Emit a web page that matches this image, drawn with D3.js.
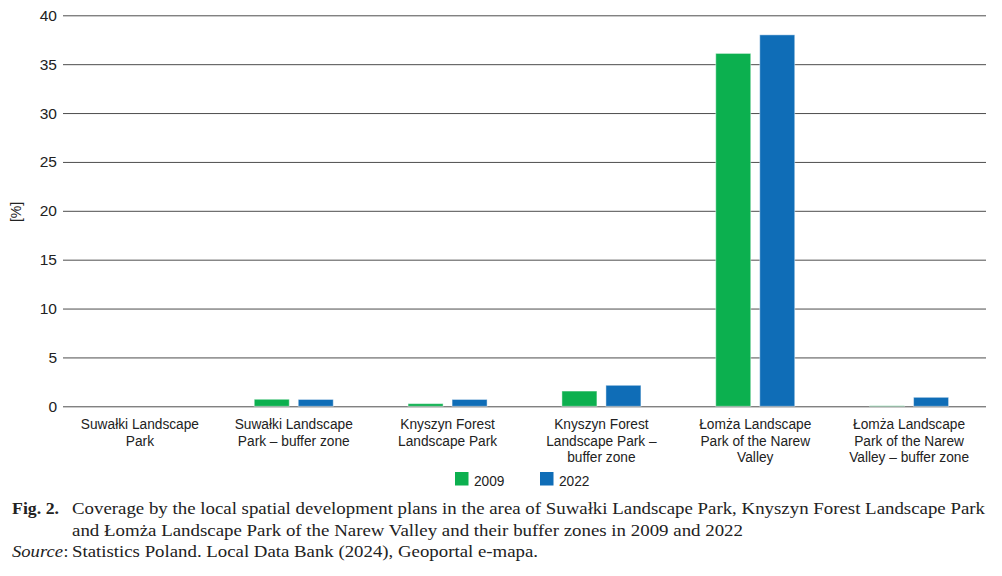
<!DOCTYPE html>
<html>
<head>
<meta charset="utf-8">
<script src="https://cdn.jsdelivr.net/npm/d3@7"></script>
<style>
  html, body { margin: 0; padding: 0; background: #fff; }
  svg { display: block; }
</style>
</head>
<body>
<svg id="chart" width="1002" height="576"></svg>
<script>
const categories = [
  ["Suwałki Landscape", "Park"],
  ["Suwałki Landscape", "Park – buffer zone"],
  ["Knyszyn Forest", "Landscape Park"],
  ["Knyszyn Forest", "Landscape Park –", "buffer zone"],
  ["Łomża Landscape", "Park of the Narew", "Valley"],
  ["Łomża Landscape", "Park of the Narew", "Valley – buffer zone"]
];
const series = ["2009", "2022"];
const values2009 = [0, 0.72, 0.27, 1.56, 36.1, 0.05];
const values2022 = [0, 0.70, 0.70, 2.15, 38.0, 0.92];
const yTicks = [0, 5, 10, 15, 20, 25, 30, 35, 40];
const colors = ["#0cb04f", "#0f6db7"];
const captionLine1 = "Coverage by the local spatial development plans in the area of Suwałki Landscape Park, Knyszyn Forest Landscape Park";
const captionLine2 = "and Łomża Landscape Park of the Narew Valley and their buffer zones in 2009 and 2022";
const sourceText = "Statistics Poland. Local Data Bank (2024), Geoportal e-mapa.";

(function () {
const svg = d3.select("#chart");
const pLeft = 63, pRight = 986, pTop = 15.3, pBottom = 406.3;
const sans = "Liberation Sans, Arial, sans-serif";
const condense = 0.885;

const y = d3.scaleLinear().domain([0, 40]).range([pBottom, pTop]);
const x0 = d3.scaleBand().domain(d3.range(categories.length)).range([pLeft, pRight]).padding(0);
const groupW = 79;
const x1 = d3.scaleBand().domain(series).range([0, groupW]).paddingInner(9 / 44).paddingOuter(0);

// gridlines + y tick labels via axis
const yAxis = d3.axisLeft(y).tickValues(yTicks).tickSize(-(pRight - pLeft)).tickPadding(6);
const gy = svg.append("g").attr("transform", `translate(${pLeft},0)`).call(yAxis);
gy.select(".domain").remove();
gy.selectAll(".tick line").attr("stroke", "#4d4d4d").attr("stroke-width", 1);
gy.selectAll(".tick text")
  .attr("font-family", sans)
  .attr("font-size", 15.5)
  .attr("fill", "#222");

// bars
const data = categories.map((c, i) => ({ i, vals: [values2009[i], values2022[i]] }));
const groups = svg.append("g").selectAll("g").data(data).join("g")
  .attr("transform", d => `translate(${x0(d.i) + x0.bandwidth() / 2 - groupW / 2},0)`);
groups.selectAll("rect").data(d => d.vals.map((v, k) => ({ v, k }))).join("rect")
  .attr("x", d => x1(series[d.k]))
  .attr("width", x1.bandwidth())
  .attr("y", d => y(d.v))
  .attr("height", d => y(0) - y(d.v))
  .attr("fill", d => colors[d.k])
  .attr("stroke", "rgba(255,255,255,0.45)")
  .attr("stroke-width", 1);

// category labels
const lab = svg.append("g").selectAll("text").data(categories).join("text")
  .attr("text-anchor", "middle")
  .attr("font-family", sans)
  .attr("font-size", 15.5)
  .attr("fill", "#222")
  .attr("transform", (d, i) => `translate(${x0(i) + x0.bandwidth() / 2},0) scale(${condense},1)`);
lab.selectAll("tspan").data(d => d).join("tspan")
  .attr("x", 0)
  .attr("y", (d, j) => 429 + j * 16.6)
  .text(d => d);

// y label
svg.append("text")
  .attr("transform", "translate(21,212) rotate(-90)")
  .attr("text-anchor", "middle")
  .attr("font-family", sans)
  .attr("font-size", 14)
  .attr("fill", "#222")
  .text("[%]");

// legend
const legX = [455, 540];
const leg = svg.append("g").selectAll("g").data(series).join("g")
  .attr("transform", (d, i) => `translate(${legX[i]},472)`);
leg.append("rect").attr("width", 13.5).attr("height", 13.5).attr("fill", (d, i) => colors[i]);
leg.append("text").attr("transform", `translate(19,13.8) scale(${condense},1)`)
  .attr("font-family", sans)
  .attr("font-size", 15.5).attr("fill", "#222").text(d => d);

// caption
const serif = "Liberation Serif, 'Times New Roman', serif";
svg.append("text").attr("x", 12).attr("y", 514)
  .attr("font-family", serif).attr("font-size", 17).attr("font-weight", "bold").attr("fill", "#222")
  .attr("textLength", 47).attr("lengthAdjust", "spacingAndGlyphs")
  .text("Fig. 2.");
svg.append("text").attr("x", 72).attr("y", 514)
  .attr("font-family", serif).attr("font-size", 17.5).attr("fill", "#222")
  .attr("textLength", 913).attr("lengthAdjust", "spacingAndGlyphs")
  .text(captionLine1);
svg.append("text").attr("x", 72).attr("y", 535.5)
  .attr("font-family", serif).attr("font-size", 17.5).attr("fill", "#222")
  .attr("textLength", 671).attr("lengthAdjust", "spacingAndGlyphs")
  .text(captionLine2);
svg.append("text").attr("x", 12).attr("y", 557)
  .attr("font-family", serif).attr("font-size", 17.5).attr("font-style", "italic").attr("fill", "#222")
  .attr("textLength", 51).attr("lengthAdjust", "spacingAndGlyphs")
  .text("Source");
svg.append("text").attr("x", 63.5).attr("y", 557)
  .attr("font-family", serif).attr("font-size", 17.5).attr("fill", "#222")
  .text(":");
svg.append("text").attr("x", 72).attr("y", 557)
  .attr("font-family", serif).attr("font-size", 17.5).attr("fill", "#222")
  .attr("textLength", 466).attr("lengthAdjust", "spacingAndGlyphs")
  .text(sourceText);
})();
</script>
</body>
</html>
